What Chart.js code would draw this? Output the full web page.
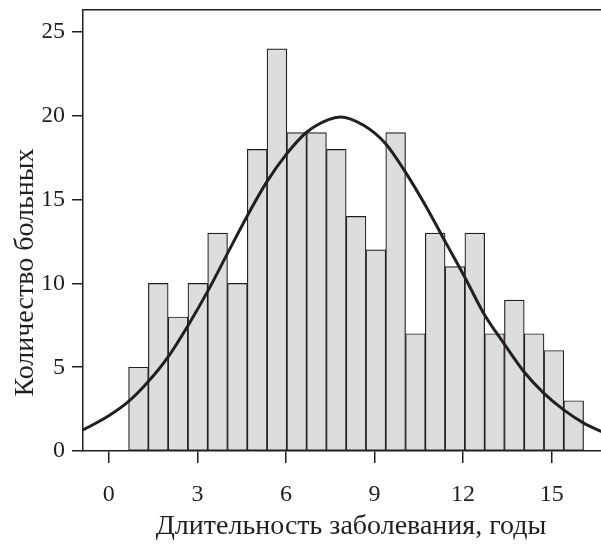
<!DOCTYPE html>
<html>
<head>
<meta charset="utf-8">
<script src="https://cdn.jsdelivr.net/npm/chart.js@4/dist/chart.umd.min.js"></script>
<style>
  html, body { margin: 0; padding: 0; background: #ffffff; overflow: hidden; }
  /* the plot continues a little past the right edge of the page */
  #wrap { width: 601px; height: 545px; overflow: hidden; }
</style>
</head>
<body>
<div id="wrap"><canvas id="chart" width="619" height="545"></canvas></div>
<script>
// Histogram bins (years): lower edge of each bin plus the final upper edge
const binEdges = [0.67, 1.34, 2.01, 2.68, 3.35, 4.02, 4.69, 5.36, 6.03, 6.70, 7.37, 8.04,
                  8.71, 9.38, 10.05, 10.72, 11.39, 12.06, 12.73, 13.40, 14.07, 14.74, 15.41, 16.08];
// Number of patients in each bin
const patientCounts = [5, 10, 8, 10, 13, 10, 18, 24, 19, 19, 18, 14, 12, 19, 7, 13, 11, 13, 7, 9, 7, 6, 3];

// Fitted normal curve, sampled points (years, patients)
const curveX = [-0.88, 0.00, 0.66, 1.33, 2.01, 2.69, 3.37, 3.99, 4.67, 5.35, 6.03, 6.71, 7.44, 7.84,
                8.63, 9.37, 10.04, 10.72, 11.40, 12.08, 12.70, 13.38, 14.06, 14.74, 15.42, 16.10, 16.70];
const curveY = [1.25, 2.10, 2.94, 4.13, 5.62, 7.51, 9.60, 11.69, 13.97, 16.06, 17.75, 19.04, 19.78, 19.94,
                19.44, 18.35, 16.66, 14.67, 12.48, 10.30, 8.21, 6.42, 4.73, 3.44, 2.44, 1.65, 1.15];

// Axis ticks and labels
const xTicks = [0, 3, 6, 9, 12, 15];
const yTicks = [0, 5, 10, 15, 20, 25];
const xAxisTitle = 'Длительность заболевания, годы';
const yAxisTitle = 'Количество больных';

const ink = '#231f20';
const serif = '"Liberation Serif", "Times New Roman", serif';

const barPoints = patientCounts.map((n, i) => ({ x: (binEdges[i] + binEdges[i + 1]) / 2, y: n }));
const curvePoints = curveX.map((x, i) => ({ x: x, y: curveY[i] }));

const titleFont = { family: serif, size: 28, weight: 'normal', lineHeight: 1.2 };
const tickFont = { family: serif, size: 24, weight: 'normal' };
const titlePad = { top: 9, bottom: 0 };
const titleBox = titleFont.size * titleFont.lineHeight + titlePad.top + titlePad.bottom;

const X_MIN = -0.874, X_MAX = 17.28;

new Chart(document.getElementById('chart'), {
  type: 'bar',
  data: {
    datasets: [
      {
        type: 'line',
        data: curvePoints,
        borderColor: ink,
        borderWidth: 3,
        pointRadius: 0,
        cubicInterpolationMode: 'monotone',
        fill: false,
        order: 0
      },
      {
        type: 'bar',
        data: barPoints,
        backgroundColor: '#dcdddf',
        borderColor: ink,
        borderWidth: 1.2,
        borderSkipped: false,
        barPercentage: 1,
        categoryPercentage: 1,
        order: 1
      }
    ]
  },
  options: {
    responsive: false,
    animation: false,
    events: [],
    layout: { padding: 0 },
    plugins: {
      legend: { display: false },
      tooltip: { enabled: false },
      title: {
        display: true,
        position: 'left',
        text: yAxisTitle,
        color: ink,
        font: titleFont,
        padding: titlePad
      }
    },
    scales: {
      x: {
        type: 'linear',
        position: 'bottom',
        offset: false,
        min: X_MIN,
        max: X_MAX,
        afterBuildTicks: s => { s.ticks = xTicks.map(v => ({ value: v })); },
        afterFit: s => { s.height = 94; s.paddingLeft = 0; s.paddingRight = 0; },
        grid: { offset: false, drawOnChartArea: false, drawTicks: true, tickLength: 12, color: ink, lineWidth: 1.5 },
        border: { display: true, color: ink, width: 1.5 },
        ticks: { color: ink, font: tickFont, padding: 17, maxRotation: 0 },
        title: { display: true, text: xAxisTitle, color: ink, font: titleFont, padding: { top: 0, bottom: 2 } }
      },
      xTop: {
        type: 'linear',
        position: 'top',
        offset: false,
        min: X_MIN,
        max: X_MAX,
        afterFit: s => { s.height = 10; s.paddingLeft = 0; s.paddingRight = 0; },
        grid: { display: false, drawTicks: false },
        border: { display: true, color: ink, width: 1.5 },
        ticks: { display: false }
      },
      y: {
        type: 'linear',
        position: 'left',
        min: 0,
        max: 26.32,
        afterBuildTicks: s => { s.ticks = yTicks.map(v => ({ value: v })); },
        afterFit: s => { s.width = 83 - titleBox; s.paddingTop = 0; s.paddingBottom = 0; },
        grid: { drawOnChartArea: false, drawTicks: true, tickLength: 11, color: ink, lineWidth: 1.5 },
        border: { display: true, color: ink, width: 1.5 },
        ticks: { color: ink, font: tickFont, padding: 7 }
      }
    }
  }
});
</script>
</body>
</html>
